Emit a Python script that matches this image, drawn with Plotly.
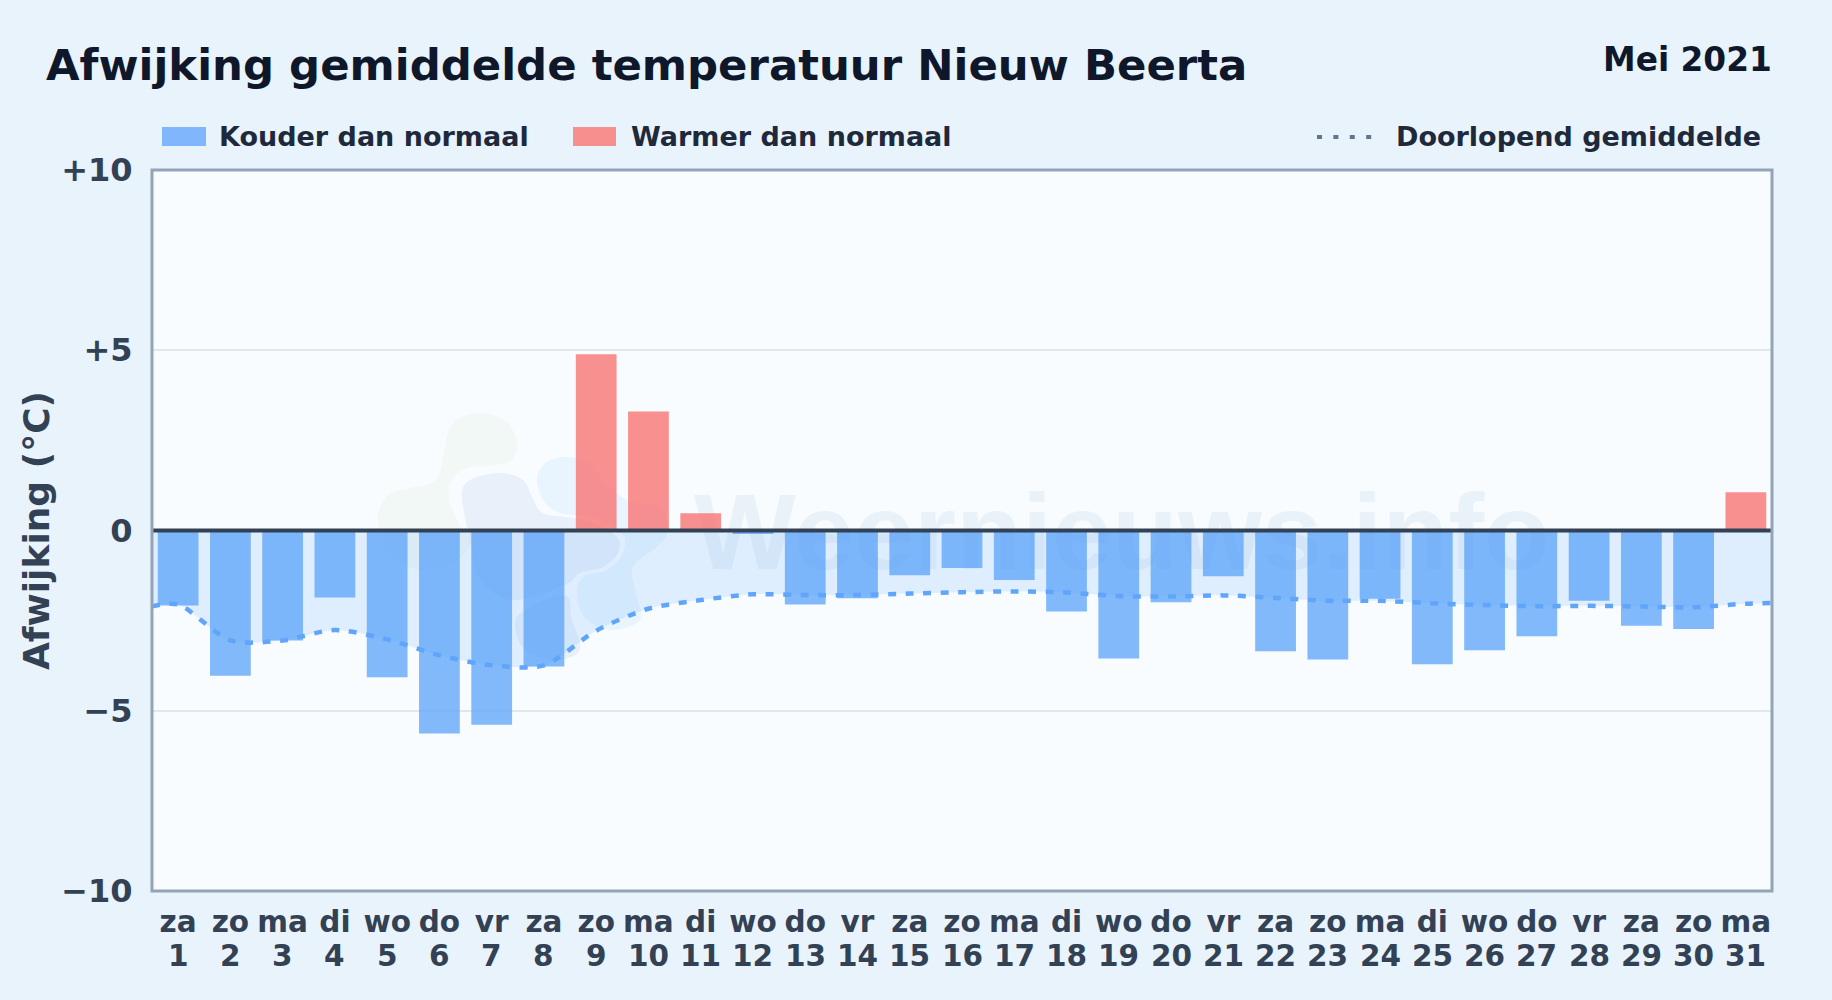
import plotly.graph_objects as go

# --- data ---
days = list(range(1, 32))
weekdays = ["za","zo","ma","di","wo","do","vr","za","zo","ma","di","wo","do","vr","za","zo",
            "ma","di","wo","do","vr","za","zo","ma","di","wo","do","vr","za","zo","ma"]
deviation = [-2.08,-4.03,-3.05,-1.86,-4.07,-5.63,-5.39,-3.77,4.89,3.30,0.48,-0.10,-2.05,-1.88,-1.24,-1.04,
             -1.37,-2.25,-3.55,-1.99,-1.27,-3.35,-3.58,-1.89,-3.71,-3.32,-2.93,-1.95,-2.64,-2.73,1.06]
running_x = [0.5] + days + [31.5]
running_mean = [-2.10,-2.05,-3.05,-3.05,-2.76,-3.02,-3.46,-3.74,-3.74,-2.78,-2.17,-1.93,-1.77,-1.79,-1.79,-1.75,
                -1.71,-1.69,-1.72,-1.82,-1.83,-1.80,-1.87,-1.95,-1.95,-2.02,-2.07,-2.10,-2.09,-2.11,-2.13,-2.03,-2.01]
y_ticks = [10, 5, 0, -5, -10]
y_labels = ["+10", "+5", "0", "\u22125", "\u221210"]

W, H = 1832, 1000
L, R, T, B = 152, 60, 170, 109
FONT = "DejaVu Sans"

def fx(px): return (px - L) / (W - L - R)
def fy(py): return 1 - (py - T) / (H - T - B)

def blob(points):
    """closed smooth path through pixel points, expressed in paper fractions"""
    n = len(points)
    d = f"M {fx(points[0][0]):.5f},{fy(points[0][1]):.5f} "
    for i in range(n):
        p0, p1, p2, p3 = points[i-1], points[i], points[(i+1) % n], points[(i+2) % n]
        c1 = (p1[0] + (p2[0]-p0[0])/6, p1[1] + (p2[1]-p0[1])/6)
        c2 = (p2[0] - (p3[0]-p1[0])/6, p2[1] - (p3[1]-p1[1])/6)
        d += f"C {fx(c1[0]):.5f},{fy(c1[1]):.5f} {fx(c2[0]):.5f},{fy(c2[1]):.5f} {fx(p2[0]):.5f},{fy(p2[1]):.5f} "
    return d + "Z"

logo_green = [(448,433),(460,418),(483,413),(507,422),(517,443),(512,460),(493,465),(467,468),(452,480),(449,500),
              (460,525),(470,545),(440,570),(395,560),(378,520),(388,495),(410,488),(437,478)]
logo_grey = [(462,497),(470,480),(500,473),(523,480),(532,497),(543,513),(573,518),(593,523),(617,537),(618,553),
             (603,567),(580,573),(565,585),(513,600),(480,580),(470,540)]
logo_grey2 = [(515,625),(525,610),(565,595),(572,620),(580,650),(555,660),(525,650)]
logo_blue = [(537,477),(547,462),(567,457),(587,462),(600,477),(627,500),(660,507),(668,530),(657,547),(633,567),
             (637,597),(640,620),(613,630),(587,620),(577,597),(583,577),(607,570),(623,553),(622,533),(593,518),(560,513),(543,500)]

fig = go.Figure()
fig.add_trace(go.Bar(x=days, y=[v if v < 0 else None for v in deviation], width=0.78,
                     marker=dict(color="rgba(96,165,250,0.78)", line=dict(width=0)), name="Kouder dan normaal"))
fig.add_trace(go.Bar(x=days, y=[v if v >= 0 else None for v in deviation], width=0.78,
                     marker=dict(color="rgba(248,113,113,0.78)", line=dict(width=0)), name="Warmer dan normaal"))
fig.add_trace(go.Scatter(x=running_x, y=running_mean, mode="lines", name="Doorlopend gemiddelde",
                         line=dict(color="#60A5FA", width=4.5, dash="8px,9.5px", shape="spline", smoothing=0.8),
                         fill="tozeroy", fillcolor="rgba(96,165,250,0.16)", cliponaxis=True))

shapes = [
    dict(type="path", path=blob(logo_green), xref="paper", yref="paper", layer="below", line=dict(width=0), fillcolor="rgba(132,190,90,0.06)"),
    dict(type="path", path=blob(logo_grey), xref="paper", yref="paper", layer="below", line=dict(width=0), fillcolor="rgba(40,100,170,0.075)"),
    dict(type="path", path=blob(logo_grey2), xref="paper", yref="paper", layer="below", line=dict(width=0), fillcolor="rgba(40,100,170,0.075)"),
    dict(type="path", path=blob(logo_blue), xref="paper", yref="paper", layer="below", line=dict(width=0), fillcolor="rgba(56,170,248,0.08)"),
    dict(type="rect", xref="paper", yref="paper", x0=fx(672), x1=fx(1572), y0=fy(621), y1=fy(421), layer="below", line=dict(width=0),
         fillcolor="rgba(0,0,0,0)",
         label=dict(text="Weernieuws.info", textposition="middle center",
                    font=dict(family="Liberation Sans", size=108, color="rgba(40,100,170,0.07)", weight="bold"))),
    # zero line on top of the bars
    dict(type="line", xref="paper", yref="y", x0=0, x1=1, y0=0, y1=0, layer="above", line=dict(color="#334155", width=4)),
    # frame
    dict(type="rect", xref="paper", yref="paper", x0=0, x1=1, y0=0, y1=1, layer="above", line=dict(color="#94A3B8", width=3)),
    # legend swatches
    dict(type="rect", xref="paper", yref="paper", x0=fx(162), x1=fx(206), y0=fy(146), y1=fy(127), line=dict(width=0), fillcolor="#80B6FC"),
    dict(type="rect", xref="paper", yref="paper", x0=fx(573), x1=fx(616), y0=fy(146), y1=fy(127), line=dict(width=0), fillcolor="#F88F8F"),
    dict(type="line", xref="paper", yref="paper", x0=fx(1317), x1=fx(1374), y0=fy(137), y1=fy(137), line=dict(color="#64748B", width=4, dash="5px,11.4px")),
]

def note(text, x, y, size, color, xanchor="left", yanchor="middle"):
    return dict(text=text, x=fx(x), y=fy(y), xref="paper", yref="paper", xanchor=xanchor, yanchor=yanchor,
                showarrow=False, font=dict(family=FONT, size=size, color=color, weight="bold"), borderpad=0)

annotations = [
    note("Mei 2021", 1773, 59.5, 32.8, "#0F172A", xanchor="right"),
    note("Kouder dan normaal", 218, 136.5, 27, "#1E293B"),
    note("Warmer dan normaal", 629.5, 136.5, 27, "#1E293B"),
    note("Doorlopend gemiddelde", 1761.5, 136.5, 27, "#1E293B", xanchor="right"),
]
# second row of the category labels: the day numbers, on the x scale
for d in days:
    annotations.append(dict(text=str(d), x=d, xref="x", y=fy(956), yref="paper", xanchor="center", yanchor="middle",
                            showarrow=False, font=dict(family=FONT, size=29.5, color="#334155", weight="bold"), borderpad=0))

fig.update_layout(
    width=W, height=H, margin=dict(l=L, r=R, t=T, b=B, autoexpand=False),
    paper_bgcolor="#E9F3FC", plot_bgcolor="#F8FCFF",
    showlegend=False, barmode="overlay",
    font=dict(family=FONT),
    title=dict(text="Afwijking gemiddelde temperatuur Nieuw Beerta", x=46/W, xref="container", xanchor="left",
               y=1-65/H, yref="container", yanchor="middle",
               font=dict(family=FONT, size=43.4, color="#0F172A", weight="bold")),
    shapes=shapes, annotations=annotations,
)
fig.update_xaxes(range=[0.5, 31.5], tickmode="array", tickvals=days, ticktext=weekdays,
                 tickfont=dict(family=FONT, size=29.5, color="#334155", weight="bold"),
                 ticks="outside", ticklen=5, tickcolor="rgba(0,0,0,0)", showgrid=False, zeroline=False, showline=False, tickangle=0)
fig.update_yaxes(range=[-10, 10], tickmode="array", tickvals=y_ticks, ticktext=y_labels,
                 tickfont=dict(family=FONT, size=32, color="#334155", weight="bold"),
                 ticks="outside", ticklen=12, tickcolor="rgba(0,0,0,0)",
                 showgrid=True, gridcolor="#E0E7EE", gridwidth=2, zeroline=False, showline=False,
                 title=dict(text="Afwijking (\u00b0C)", standoff=0,
                            font=dict(family=FONT, size=36, color="#334155", weight="bold")))

fig.write_html("out.html", config=dict(displayModeBar=False),
               post_script="document.body.style.margin='0';document.body.style.overflow='hidden';")
